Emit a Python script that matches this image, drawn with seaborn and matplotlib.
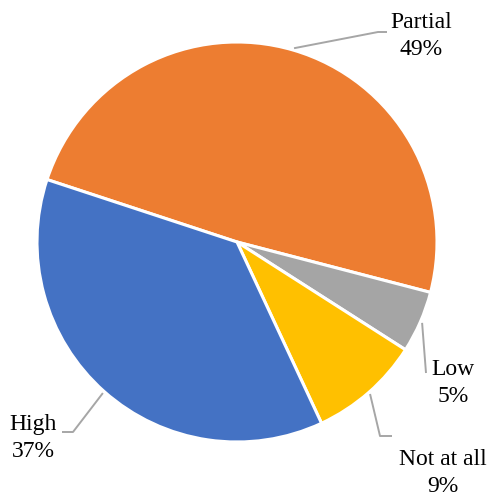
import numpy as np
import matplotlib
matplotlib.use("Agg")
import matplotlib.pyplot as plt
import seaborn as sns

sns.set_theme(style="white")
plt.rcParams["font.family"] = ["Liberation Serif", "DejaVu Serif"]

# Share of responses per level, drawn clockwise from the upper-left
categories = ["Partial", "Low", "Not at all", "High"]
shares = [49, 5, 9, 37]
colors = ["#ED7D31", "#A5A5A5", "#FFC000", "#4472C4"]

# Label text placement (data units, pie radius = 1) and leader elbows
label_xy = [(0.92, 1.03), (1.08, -0.705), (1.03, -1.155), (-1.02, -0.98)]
elbow_xy = [(0.705, 1.05), (0.945, -0.655), (0.715, -0.97), (-0.82, -0.95)]
tail_xy = [(0.75, 1.05), (0.945, -0.655), (0.775, -0.97), (-0.875, -0.95)]

fig = plt.figure(figsize=(4.9, 4.98), dpi=100)
ax = fig.add_axes([0, 0, 1, 1])

wedges, _ = ax.pie(
    shares,
    colors=colors,
    startangle=161.8,
    counterclock=False,
    radius=1.0,
    wedgeprops=dict(edgecolor="white", linewidth=2.2),
)

line_color = "#A6A6A6"
for w, cat, val, lxy, exy, txy in zip(wedges, categories, shares, label_xy, elbow_xy, tail_xy):
    mid = np.deg2rad((w.theta1 + w.theta2) / 2)
    sx, sy = 1.01 * np.cos(mid), 1.01 * np.sin(mid)
    ax.plot([sx, exy[0], txy[0]], [sy, exy[1], txy[1]], color=line_color, lw=1.4,
            solid_capstyle="butt", zorder=1)
    ax.text(lxy[0], lxy[1], f"{cat}\n{val}%", ha="center", va="center",
            multialignment="center", fontsize=17, color="black", linespacing=1.4)

ax.set_xlim(-1.185, 1.265)
ax.set_ylim(-1.28, 1.21)
ax.set_aspect("equal")
ax.axis("off")

fig.savefig("out.png", dpi=100, facecolor="white")
